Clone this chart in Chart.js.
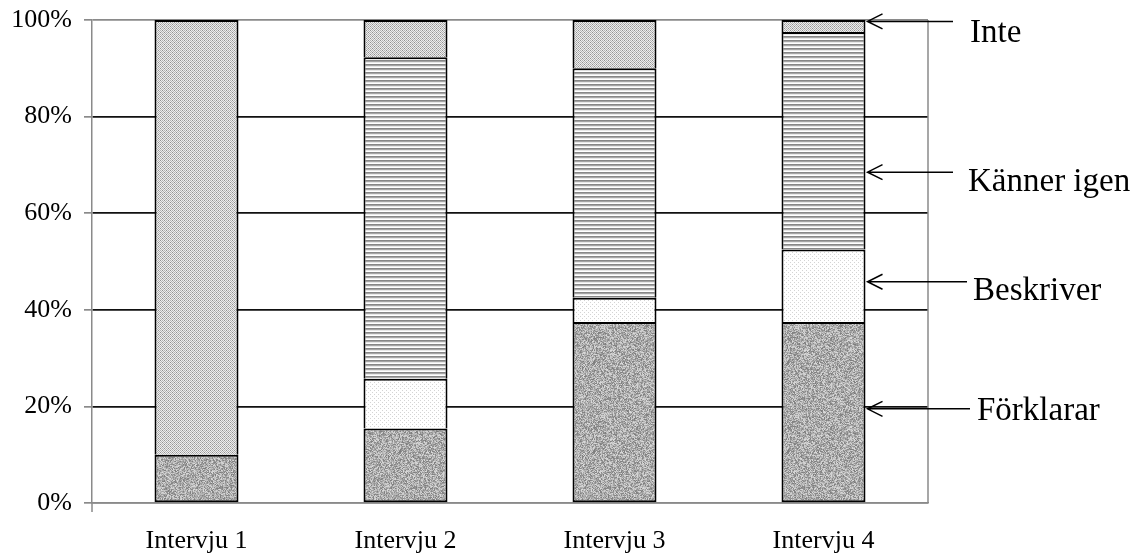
<!DOCTYPE html>
<html>
<head>
<meta charset="utf-8">
<script src="https://cdn.jsdelivr.net/npm/chart.js@4/dist/chart.umd.min.js"></script>
<style>
  html, body { margin: 0; padding: 0; background: #ffffff; }
  #wrap { width: 1142px; height: 556px; }
</style>
</head>
<body>
<div id="wrap"><canvas id="c" width="1142" height="556"></canvas></div>
<script>
// Categories and stacked shares (percent of answers per interview)
const categories = ['Intervju 1', 'Intervju 2', 'Intervju 3', 'Intervju 4'];
const forklarar  = [10.0, 15.4, 37.5, 37.5];
const beskriver  = [null, 10.3, 5.0, 15.0];
const kannerIgen = [null, 66.6, 47.5, 45.0];
const inte       = [90.0, 7.7, 10.0, 2.5];
const yTicks     = [0, 20, 40, 60, 80, 100];

// Callout labels on the right, each pointing at a segment of the last bar
const calloutLabels = ['Inte', 'Känner igen', 'Beskriver', 'Förklarar'];
const calloutArrowAt = [99.7, 68.5, 45.8, 19.5];
const calloutTextAt  = [97.3, 66.3, 43.9, 19.0];

const canvas = document.getElementById('c');
const ctx = canvas.getContext('2d');

// Builds a repeating grey-scale fill from a per-pixel shade function
function tilePattern(w, h, shade) {
  const t = document.createElement('canvas');
  t.width = w; t.height = h;
  const g = t.getContext('2d');
  const img = g.createImageData(w, h);
  for (let y = 0; y < h; y++) {
    for (let x = 0; x < w; x++) {
      const v = shade(x, y);
      const i = (y * w + x) * 4;
      img.data[i] = v; img.data[i + 1] = v; img.data[i + 2] = v; img.data[i + 3] = 255;
    }
  }
  g.putImageData(img, 0, 0);
  return ctx.createPattern(t, 'repeat');
}

// Grainy speckle texture (deterministic hash per pixel)
function grain(x, y) {
  let h = Math.imul(x, 374761393) + Math.imul(y, 668265263);
  h = Math.imul(h ^ (h >>> 13), 1274126177);
  h = (h ^ (h >>> 16)) >>> 0;
  return 125 + (h % 95);
}
const grainFill = tilePattern(97, 89, grain);

// Sparse dots on white
const dotFill = tilePattern(4, 4, (x, y) => ((x === 0 && y === 0) || (x === 2 && y === 2)) ? 212 : 255);

// Horizontal stripes
const stripeRows = [135, 165, 232, 255];
const stripeFill = tilePattern(1, 4, (x, y) => stripeRows[y]);

// Fine cross-hatch checker
const checkFill = tilePattern(4, 4, (x, y) => {
  if (x % 4 === 0 && y % 4 === 0) return 145;
  if (x % 4 === 2 && y % 4 === 2) return 145;
  return (x + y) % 2 === 0 ? 180 : 238;
});

const serif = 'Liberation Serif';

// Gray frame on the right side and a short stub of the value axis below zero
const framePlugin = {
  id: 'frame',
  beforeDatasetsDraw(chart) {
    const a = chart.chartArea;
    const g = chart.ctx;
    g.save();
    g.strokeStyle = '#8a8a8a';
    g.lineWidth = 1.5;
    g.beginPath();
    g.moveTo(a.right, a.top);
    g.lineTo(a.right, a.bottom);
    g.moveTo(a.left, a.bottom);
    g.lineTo(a.left, a.bottom + 9);
    g.stroke();
    g.restore();
  }
};

// Arrows and labels naming each segment
const calloutPlugin = {
  id: 'callouts',
  afterDatasetsDraw(chart) {
    const y = chart.scales.y;
    const meta = chart.getDatasetMeta(0);
    const lastBar = meta.data[meta.data.length - 1];
    const tipX = lastBar.x + lastBar.width / 2 + 2;
    const tailX = [953, 953, 967, 970];
    const textX = [970, 968, 973, 977];
    const g = chart.ctx;
    g.save();
    g.strokeStyle = '#000';
    g.fillStyle = '#000';
    g.lineWidth = 1.5;
    g.font = '33px "' + serif + '"';
    g.textAlign = 'left';
    g.textBaseline = 'middle';
    calloutLabels.forEach((label, i) => {
      const ay = y.getPixelForValue(calloutArrowAt[i]);
      g.beginPath();
      g.moveTo(tailX[i], ay);
      g.lineTo(tipX, ay);
      g.moveTo(tipX + 15, ay - 7.5);
      g.lineTo(tipX, ay);
      g.lineTo(tipX + 15, ay + 7.5);
      g.stroke();
      g.fillText(label, textX[i], y.getPixelForValue(calloutTextAt[i]));
    });
    g.restore();
  }
};

function segment(label, data, fill, first) {
  return {
    label: label,
    data: data,
    backgroundColor: fill,
    borderColor: '#000',
    borderWidth: 2,
    borderSkipped: first ? false : 'bottom',
    categoryPercentage: 1.0,
    barPercentage: 0.402
  };
}

new Chart(ctx, {
  type: 'bar',
  data: {
    labels: categories,
    datasets: [
      segment('Förklarar', forklarar, grainFill, true),
      segment('Beskriver', beskriver, dotFill, false),
      segment('Känner igen', kannerIgen, stripeFill, false),
      segment('Inte', inte, checkFill, false)
    ]
  },
  options: {
    responsive: false,
    animation: false,
    devicePixelRatio: 1,
    layout: { padding: { top: 20, right: 214, left: 0, bottom: 0 } },
    plugins: {
      legend: { display: false },
      tooltip: { enabled: false }
    },
    scales: {
      x: {
        stacked: true,
        grid: { display: true, drawOnChartArea: false, drawTicks: false },
        border: { display: true, color: '#8a8a8a', width: 1.5 },
        ticks: {
          color: '#000',
          padding: 23,
          font: { family: serif, size: 26 }
        },
        afterFit(scale) {
          scale.height = 53;
          scale.paddingLeft = 0;
          scale.paddingRight = 0;
        }
      },
      y: {
        stacked: true,
        min: 0,
        max: 100,
        afterBuildTicks(scale) { scale.ticks = yTicks.map(v => ({ value: v })); },
        grid: {
          color: (c) => (c.tick && (c.tick.value === 100 || c.tick.value === 0)) ? '#8a8a8a' : '#111',
          lineWidth: 1.7,
          tickColor: '#8a8a8a',
          tickLength: 8
        },
        border: { display: true, color: '#8a8a8a', width: 1.5 },
        ticks: {
          color: '#000',
          padding: 12,
          font: { family: serif, size: 26 },
          callback: (v) => v + '%'
        },
        afterFit(scale) {
          scale.width = 92;
          scale.paddingTop = 0;
          scale.paddingBottom = 0;
        }
      }
    }
  },
  plugins: [framePlugin, calloutPlugin]
});
</script>
</body>
</html>
